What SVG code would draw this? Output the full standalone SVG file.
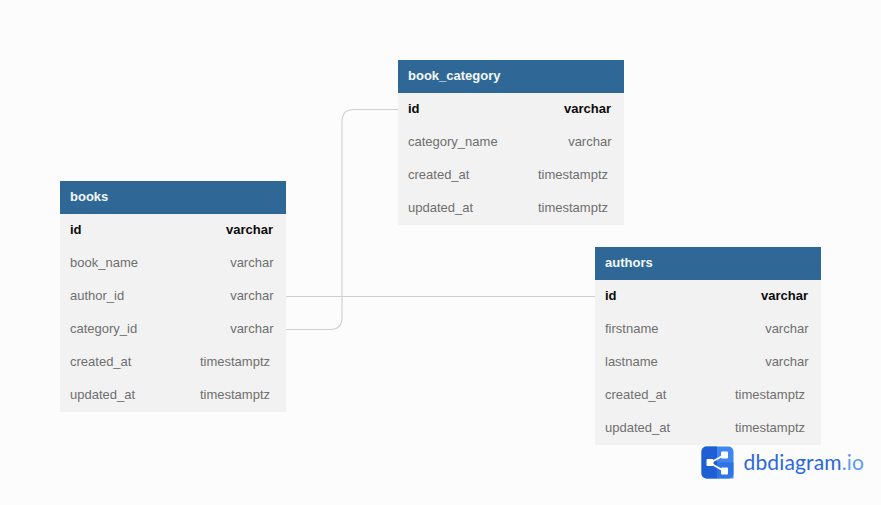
<svg xmlns="http://www.w3.org/2000/svg" width="881" height="505" viewBox="0 0 881 505">
<style>
text{font-family:"Liberation Sans",Arial,sans-serif;font-size:13px;fill:#6f6f6f}
.hd{fill:#2f6897}
.bd{fill:#f2f2f2}
.t{font-weight:700;fill:#f5f8fb}
.k{font-weight:700;fill:#0c0c0c}
.r{text-anchor:end}
.c{fill:none;stroke:#cfcfcf;stroke-width:1.100}
</style>
<rect width="881" height="505" fill="#fcfcfc"/>
<g id="connectors">
<path class="c" d="M286 296.500H595"/>
<path class="c" d="M286 329.500H330Q342 329.500 342 317.500V121.500Q342 109.500 354 109.500H398"/>
</g>
<g id="books">
<rect class="bd" x="60" y="214" width="226" height="198"/>
<rect class="hd" x="60" y="181" width="226" height="33"/>
<text class="t" x="70" y="201">books</text>
<text class="k" x="70" y="234">id</text><text class="k r" x="273" y="234">varchar</text>
<text x="70" y="267">book_name</text><text class="r" x="273.500" y="267">varchar</text>
<text x="70" y="300">author_id</text><text class="r" x="273.500" y="300">varchar</text>
<text x="70" y="333">category_id</text><text class="r" x="273.500" y="333">varchar</text>
<text x="70" y="366">created_at</text><text class="r" x="270" y="366">timestamptz</text>
<text x="70" y="399">updated_at</text><text class="r" x="270" y="399">timestamptz</text>
</g>
<g id="book_category">
<rect class="bd" x="398" y="93" width="226" height="132"/>
<rect class="hd" x="398" y="60" width="226" height="33"/>
<text class="t" x="408" y="80">book_category</text>
<text class="k" x="408" y="113">id</text><text class="k r" x="611" y="113">varchar</text>
<text x="408" y="146">category_name</text><text class="r" x="611.500" y="146">varchar</text>
<text x="408" y="179">created_at</text><text class="r" x="608" y="179">timestamptz</text>
<text x="408" y="212">updated_at</text><text class="r" x="608" y="212">timestamptz</text>
</g>
<g id="authors">
<rect class="bd" x="595" y="280" width="226" height="165"/>
<rect class="hd" x="595" y="247" width="226" height="33"/>
<text class="t" x="605" y="267">authors</text>
<text class="k" x="605" y="300">id</text><text class="k r" x="808" y="300">varchar</text>
<text x="605" y="333">firstname</text><text class="r" x="808.500" y="333">varchar</text>
<text x="605" y="366">lastname</text><text class="r" x="808.500" y="366">varchar</text>
<text x="605" y="399">created_at</text><text class="r" x="805" y="399">timestamptz</text>
<text x="605" y="432">updated_at</text><text class="r" x="805" y="432">timestamptz</text>
</g>
<g id="logo">
<rect x="701.500" y="446.500" width="32" height="32" rx="5" fill="#3f86ee"/>
<path d="M701.500 451.500a5 5 0 0 1 5-5H717V478.500H706.500a5 5 0 0 1-5-5Z" fill="#1f5fd6"/>
<path d="M717 462.500H733.500V478.500H717Z" fill="#2a6fe2" opacity=".8"/>
<path d="M710 463L724 455M710 463L724 471" fill="none" stroke="#fff" stroke-width="1.800"/>
<rect x="706.500" y="459" width="7" height="7" rx="1" fill="#fff"/>
<rect x="721" y="451.500" width="7" height="7" rx="1" fill="#fff"/>
<rect x="721" y="467.500" width="7" height="7" rx="1" fill="#fff"/>
<text x="743.500" y="470" style="font-family:'Lato','Noto Sans',sans-serif;font-size:21px;fill:#2a69dd;letter-spacing:.15px">dbdiagram<tspan style="fill:#5b9bf5">.io</tspan></text>
</g>
</svg>
